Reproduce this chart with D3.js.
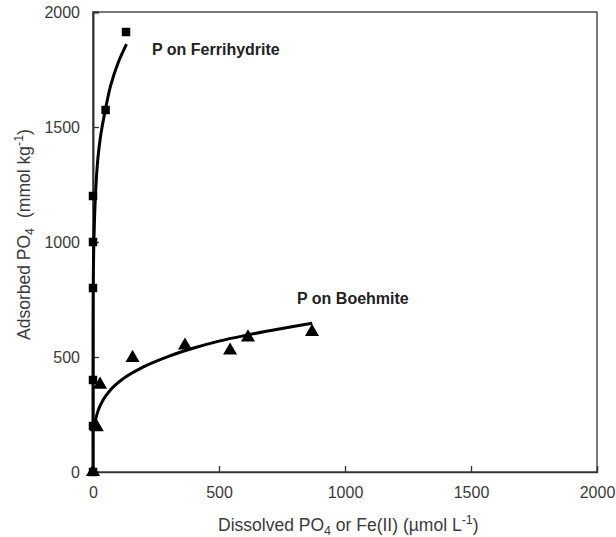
<!DOCTYPE html>
<html>
<head>
<meta charset="utf-8">
<script src="https://cdn.jsdelivr.net/npm/d3@7"></script>
<style>
  html, body { margin: 0; padding: 0; background: #fff; }
  svg { display: block; font-family: "Liberation Sans", Arial, Helvetica, sans-serif; }
</style>
</head>
<body>
<svg id="chart" width="616" height="537"></svg>
<script>
// Axis ticks
const xTicks = [0, 500, 1000, 1500, 2000];
const yTicks = [0, 500, 1000, 1500, 2000];

// Measured adsorption: P on ferrihydrite (squares)
const ferriDissolved = [0, 0, 0, 0, 0, 0, 50, 131];
const ferriAdsorbed  = [0, 200, 400, 800, 1000, 1200, 1574, 1913];

// Measured adsorption: P on boehmite (triangles)
const boehDissolved = [0, 15, 28, 157, 365, 544, 615, 869];
const boehAdsorbed  = [0, 195, 380, 496, 550, 528, 585, 609];

// Fitted isotherm traced through the ferrihydrite data
const ferriFitX = [0, 0.2, 1, 3, 6, 12, 20, 30, 50, 70, 100, 133];
const ferriFitY = [0, 620, 820, 980, 1100, 1250, 1370, 1460, 1580, 1680, 1780, 1860];

// Fitted isotherm traced through the boehmite data
const boehFitX = [4, 10, 20, 40, 70, 120, 200, 300, 400, 500, 600, 700, 800, 870];
const boehFitY = [190, 226, 266, 313, 358, 406, 457, 503, 539, 569, 593, 614, 634, 647];

const svg = d3.select("#chart");
const plotLeft = 93, plotRight = 597, plotTop = 12, plotBottom = 472;

const x = d3.scaleLinear().domain([0, 2000]).range([plotLeft, plotRight]);
const y = d3.scaleLinear().domain([0, 2000]).range([plotBottom, plotTop]);

const axisColor = "#333";
const textColor = "#3a3a3a";

// Plot frame
svg.append("rect")
  .attr("x", plotLeft).attr("y", plotTop)
  .attr("width", plotRight - plotLeft).attr("height", plotBottom - plotTop)
  .attr("fill", "none").attr("stroke", axisColor).attr("stroke-width", 1.3);

// X axis with inward ticks
const gx = svg.append("g")
  .attr("transform", `translate(0,${plotBottom})`)
  .call(d3.axisBottom(x).tickValues(xTicks).tickSize(-6).tickPadding(15).tickFormat(d3.format("d")));
gx.select(".domain").attr("stroke", axisColor).attr("stroke-width", 1.3);
gx.selectAll(".tick line").attr("stroke", axisColor).attr("stroke-width", 1.3);
gx.selectAll(".tick text").attr("fill", textColor).attr("font-size", 16);

// Y axis with inward ticks
const gy = svg.append("g")
  .attr("transform", `translate(${plotLeft},0)`)
  .call(d3.axisLeft(y).tickValues(yTicks).tickSize(-6).tickPadding(13).tickFormat(d3.format("d")));
gy.select(".domain").attr("stroke", axisColor).attr("stroke-width", 2);
gy.selectAll(".tick line").attr("stroke", axisColor).attr("stroke-width", 1.3);
gy.selectAll(".tick text").attr("fill", textColor).attr("font-size", 16);

// X axis title
const xt = svg.append("text")
  .attr("x", 218).attr("y", 531)
  .attr("fill", textColor).attr("font-size", 17.5);
xt.append("tspan").text("Dissolved PO");
xt.append("tspan").attr("dy", 4).attr("font-size", 12.5).text("4");
xt.append("tspan").attr("dy", -4).text(" or Fe(II) (µmol L");
xt.append("tspan").attr("dy", -7).attr("font-size", 12.5).text("-1");
xt.append("tspan").attr("dy", 7).text(")");

// Y axis title
const yt = svg.append("text")
  .attr("transform", "translate(30,340) rotate(-90)")
  .attr("fill", textColor).attr("font-size", 17.5);
yt.append("tspan").text("Adsorbed PO");
yt.append("tspan").attr("dy", 4).attr("font-size", 12.5).text("4");
yt.append("tspan").attr("dy", -4).attr("dx", 10).text("(mmol kg");
yt.append("tspan").attr("dy", -7).attr("font-size", 12.5).text("-1");
yt.append("tspan").attr("dy", 7).text(")");

// Fitted curves
const ferriLine = d3.line()
  .x(d => x(d[0]))
  .y(d => y(d[1]))
  .curve(d3.curveMonotoneY);
const boehLine = d3.line()
  .x(d => x(d[0]))
  .y(d => y(d[1]))
  .curve(d3.curveMonotoneX);

svg.append("path")
  .datum(ferriFitX.map((v, i) => [v, ferriFitY[i]]))
  .attr("d", ferriLine)
  .attr("fill", "none").attr("stroke", "#000").attr("stroke-width", 3);

svg.append("path")
  .datum(boehFitX.map((v, i) => [v, boehFitY[i]]))
  .attr("d", boehLine)
  .attr("fill", "none").attr("stroke", "#000").attr("stroke-width", 3);

// Ferrihydrite points (squares)
const square = d3.symbol().type(d3.symbolSquare).size(72);
svg.append("g").selectAll("path")
  .data(ferriDissolved.map((v, i) => [v, ferriAdsorbed[i]]))
  .join("path")
  .attr("d", square)
  .attr("transform", d => `translate(${x(d[0])},${y(d[1])})`)
  .attr("fill", "#000");

// Boehmite points (triangles)
const tri = d3.symbol().type(d3.symbolTriangle).size(85);
svg.append("g").selectAll("path")
  .data(boehDissolved.map((v, i) => [v, boehAdsorbed[i]]))
  .join("path")
  .attr("d", tri)
  .attr("transform", d => `translate(${x(d[0])},${y(d[1])})`)
  .attr("fill", "#000");

// Series labels
svg.append("text")
  .attr("x", 152).attr("y", 55)
  .attr("font-size", 16).attr("font-weight", "bold").attr("fill", "#222")
  .text("P on Ferrihydrite");
svg.append("text")
  .attr("x", 297).attr("y", 304)
  .attr("font-size", 16).attr("font-weight", "bold").attr("fill", "#222")
  .text("P on Boehmite");
</script>
</body>
</html>
